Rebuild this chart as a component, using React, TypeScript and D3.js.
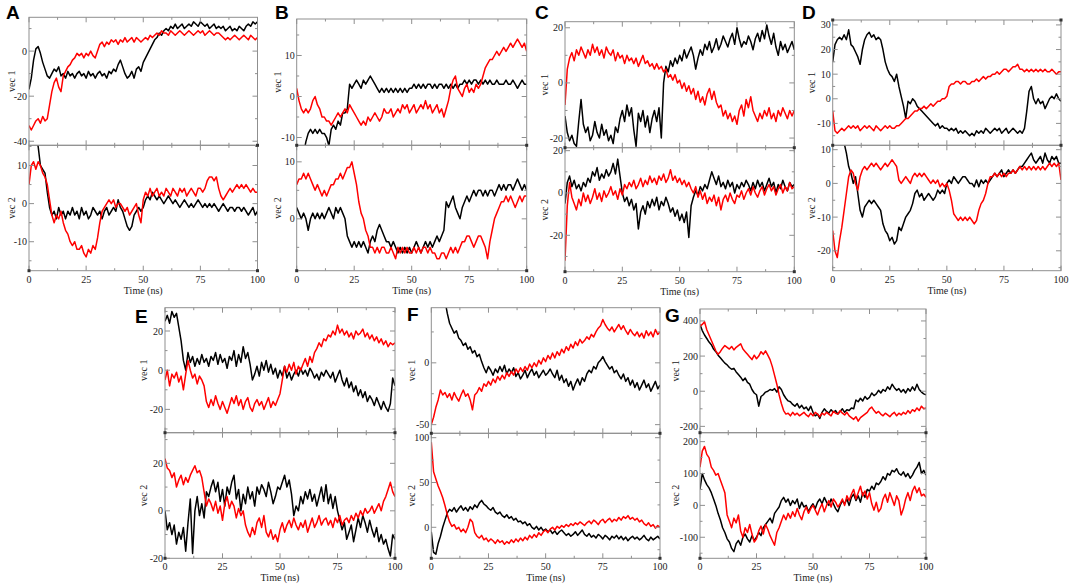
import React from "react";
import * as d3 from "d3";

// time axis (ns), one sample per ns
const timeNs = d3.range(0, 101);
const timeTicks = [0, 25, 50, 75, 100];

// ---- panel A ----
const aVec1Black = [
  -17, -12, -4, 1, 2, -1, -5, -8, -11, -12,
  -10, -8, -9, -7, -11, -10, -12, -9, -11, -10,
  -12, -10, -9, -11, -10, -12, -9, -11, -10, -12,
  -10, -9, -11, -10, -12, -9, -10, -8, -9, -6,
  -4, -7, -10, -12, -11, -9, -12, -8, -7, -9,
  -5, -3, -1, 1, 3, 5, 6, 8, 7, 9,
  10, 9, 11, 10, 12, 10, 11, 12, 10, 11,
  12, 11, 13, 12, 11, 13, 12, 11, 12, 10,
  11, 12, 10, 11, 10, 11, 9, 10, 11, 9,
  10, 9, 11, 10, 9, 11, 12, 11, 13, 12,
  13,
];
const aVec1Red = [
  -33, -35, -33, -31, -30, -32, -29, -31, -30, -24,
  -18, -14, -12, -16, -18, -11, -9, -7, -6, -4,
  -3, -1, -2, -1, -3, -1, -2, 0, -2, -3,
  0, 3, 4, 2, 4, 3, 5, 4, 5, 3,
  5, 4, 6, 4, 5, 6, 4, 6, 5, 4,
  5, 6, 5, 7, 6, 7, 8, 7, 9, 8,
  8, 7, 9, 8, 7, 8, 9, 8, 7, 8,
  9, 8, 7, 8, 9, 8, 9, 7, 8, 9,
  8, 7, 8, 8, 7, 6, 5, 6, 5, 6,
  7, 6, 5, 6, 7, 6, 5, 7, 6, 5,
  6,
];
const aVec2Black = [
  16, 17, 16, 17, 15, 10, 9, 8, 3, -1,
  -3, -2, -4, -1, -3, -2, -4, -2, -3, -1,
  -3, -2, -4, -1, -3, -2, -4, -3, -1, -2,
  -3, -2, -4, -2, -1, -3, -2, -1, -2, 1,
  -1, -2, -4, -6, -7, -6, -3, -2, -1, -2,
  -1, 1, 2, 1, 3, 2, 1, 2, 1, 0,
  1, 2, 1, 0, 1, 0, -1, 0, 1, 0,
  -1, 0, -1, 0, 1, 0, -1, 0, -1, 0,
  -1, 0, -1, -2, -1, 0, -1, -2, -1, -1,
  -2, -1, -1, -2, -1, -2, -3, -2, -1, -3,
  -2,
];
const aVec2Red = [
  5, 10, 11, 9, 11, 10, 8, 7, 5, 1,
  -3, -5, -3, -4, -2, -5, -7, -8, -10, -11,
  -10, -12, -12, -11, -13, -14, -12, -13, -11, -12,
  -9, -5, -2, -1, 0, 1, 0, 1, -1, 0,
  0, -1, -2, -1, -3, -2, -1, 0, -3, -5,
  1, 3, 2, 4, 2, 3, 4, 2, 3, 2,
  4, 3, 2, 4, 3, 2, 4, 3, 4, 2,
  3, 4, 3, 2, 4, 4, 3, 4, 6, 7,
  7, 6, 7, 4, 2, 1, 2, 3, 4, 3,
  4, 5, 4, 5, 4, 5, 4, 3, 4, 3,
  3,
];

// ---- panel B ----
const bVec1Black = [
  -13, -14, -13, -14, -11, -9, -8, -9, -8, -9,
  -8, -9, -9, -10, -12, -8, -7, -8, -6, -7,
  -4, -4, -3, 3, 2, 3, 4, 3, 2, 4,
  3, 4, 5, 4, 3, 2, 1, 2, 1, 2,
  1, 2, 1, 2, 1, 2, 1, 2, 1, 2,
  2, 3, 2, 3, 2, 3, 2, 3, 3, 2,
  3, 2, 3, 3, 2, 3, 2, 3, 2, 3,
  2, 3, 3, 4, 3, 4, 3, 4, 4, 3,
  4, 3, 4, 3, 4, 3, 3, 4, 3, 3,
  3, 4, 3, 3, 4, 3, 2, 3, 4, 3,
  3,
];
const bVec1Red = [
  2, -1, -3, -4, -3, -4, -3, -1, 0, -2,
  -3, -5, -5, -6, -6, -7, -6, -5, -4, -5,
  -4, -3, -4, -2, -3, -4, -5, -6, -7, -6,
  -7, -5, -6, -5, -4, -5, -6, -5, -3, -4,
  -4, -3, -5, -4, -3, -4, -2, -3, -2, -4,
  -3, -2, -4, -3, -2, -3, -1, -3, -2, -4,
  -3, -2, -4, -3, -5, -3, -1, 2, 4, 5,
  2, 1, 0, 2, 3, 1, 2, 1, 3, 2,
  3, 5, 7, 8, 9, 9, 10, 11, 10, 11,
  12, 11, 12, 13, 12, 13, 14, 13, 12, 13,
  11,
];
const bVec2Black = [
  2, 1, 0, 1, 0, -2, 0, 1, 0, 1,
  0, 1, 0, 1, 2, 1, 0, 2, 1, 2,
  1, 0, -3, -4, -5, -4, -5, -4, -5, -4,
  -5, -6, -4, -3, -4, -2, -1, -2, -3, -4,
  -4, -5, -4, -5, -6, -5, -6, -5, -6, -5,
  -6, -5, -4, -5, -6, -5, -4, -5, -4, -5,
  -4, -3, -4, -3, -2, 3, 2, 3, 4, 2,
  1, 0, 2, 3, 4, 3, 4, 5, 4, 5,
  5, 4, 5, 4, 5, 5, 4, 5, 6, 5,
  6, 5, 6, 6, 5, 6, 7, 6, 5, 6,
  5,
];
const bVec2Red = [
  6, 7, 7, 8, 7, 8, 7, 6, 5, 6,
  5, 4, 5, 4, 5, 6, 6, 7, 7, 8,
  7, 8, 9, 9, 10, 8, 6, 3, 1, 0,
  -2, -3, -5, -5, -6, -5, -6, -5, -5, -6,
  -6, -5, -6, -7, -5, -6, -5, -6, -5, -6,
  -6, -5, -6, -5, -6, -5, -5, -6, -5, -6,
  -6, -7, -7, -6, -6, -7, -6, -5, -6, -5,
  -6, -5, -4, -4, -3, -3, -4, -5, -4, -3,
  -3, -4, -5, -7, -4, -2, 0, 1, 2, 3,
  3, 4, 3, 4, 3, 2, 3, 4, 3, 4,
  4,
];

// ---- panel C ----
const cVec1Black = [
  -12, -18, -21, -19, -22, -23, -14, -6, -15, -18,
  -16, -21, -19, -14, -18, -20, -15, -19, -17, -21,
  -19, -22, -16, -18, -13, -10, -14, -8, -12, -9,
  -17, -23, -11, -14, -10, -16, -12, -18, -13, -10,
  -14, -9, -20, 0, 6, 4, 8, 6, 9, 7,
  10, 8, 12, 9, 11, 13, 10, 5, 9, 12,
  10, 14, 12, 15, 11, 13, 16, 12, 14, 17,
  15, 13, 16, 18, 14, 20, 16, 13, 15, 14,
  17, 15, 12, 16, 18, 15, 19, 16, 21, 17,
  14, 18, 13, 10, 15, 12, 14, 11, 13, 15,
  12,
];
const cVec1Red = [
  -8, 5, 9, 11, 8, 12, 10, 13, 11, 9,
  12, 10, 14, 11, 13, 10, 12, 9, 13, 11,
  10, 12, 8, 11, 9, 10, 7, 10, 8, 9,
  7, 9, 6, 8, 10, 7, 8, 6, 7, 5,
  7, 5, 6, 4, 5, 2, 3, 1, 3, 0,
  1, -2, 0, -3, -1, -4, -2, -6, -3, -7,
  -5, -8, -4, -2, -6, -3, -7, -9, -8, -12,
  -10, -13, -11, -14, -12, -15, -10, -8, -12, -6,
  -9, -5, -10, -12, -14, -11, -13, -10, -12, -9,
  -13, -11, -14, -10, -12, -9, -11, -13, -10, -12,
  -10,
];
const cVec2Black = [
  -5, 5, 8, 3, 6, 2, 4, 1, 5, 3,
  7, 5, 10, 8, 12, 6, 9, 7, 11, 8,
  10, 14, 9, 16, 8, 0, -4, -2, -6, -3,
  -8, -5, -17, -9, -6, -10, -4, -7, -3, -6,
  -2, -8, -4, -6, -2, -5, -9, -7, -11, -8,
  -13, -10, -14, -9, -21, -6, -2, 1, -1, 3,
  1, 4, 2, 6, 10, 7, 4, 8, 3, 5,
  2, 6, 3, 5, 0, 4, 2, 5, 3, 6,
  4, 1, 5, 2, 6, 3, 5, 1, 4, 7,
  3, 5, 0, 4, 2, 6, 3, 1, 5, 3,
  4,
];
const cVec2Red = [
  -32, -6, 5, -2, -5, -8, -3, -6, 0, -4,
  -1, -5, -2, 2, -3, 0, -4, 1, -2, 0,
  3, -1, 1, -3, 2, -1, 4, 2, 5, 3,
  6, 2, 4, 7, 3, 6, 4, 8, 5, 7,
  4, 8, 6, 9, 5, 7, 11, 6, 8, 5,
  7, 4, 6, 3, 5, 2, 0, 3, -2, 1,
  -3, 0, -5, -2, -4, -1, -6, -2, -8, -3,
  -1, -4, 0, -3, -5, -1, -2, 1, -3, 0,
  2, -1, 3, 0, -2, 1, 3, -1, 2, 4,
  1, 3, -1, 2, 4, 0, 3, 1, 5, 2,
  3,
];

// ---- panel D ----
const dVec1Black = [
  15, 22, 24, 25, 24, 26, 24, 28, 22, 21,
  19, 17, 14, 20, 24, 26, 27, 25, 26, 24,
  25, 24, 20, 15, 12, 10, 9, 7, 10, 5,
  1, -3, -8, -1, -2, 0, -1, -3, -4, -5,
  -6, -7, -8, -9, -10, -11, -10, -12, -11, -12,
  -12, -13, -12, -13, -12, -14, -13, -14, -13, -14,
  -15, -14, -15, -13, -14, -13, -14, -12, -13, -14,
  -13, -12, -13, -12, -14, -13, -12, -14, -13, -12,
  -13, -14, -13, -14, -12, -5, 3, 5, 0, -2,
  0, -2, -1, -4, -2, 0, 1, 0, 2, 0,
  -1,
];
const dVec1Red = [
  -5, -13, -14, -13, -12, -13, -12, -11, -12, -11,
  -12, -11, -13, -12, -11, -12, -11, -12, -13, -11,
  -12, -13, -12, -11, -12, -11, -12, -12, -11, -11,
  -10, -9, -8, -8, -7, -6, -5, -5, -4, -4,
  -3, -4, -3, -2, -3, -2, -1, -1, 0, 0,
  1, 5, 6, 6, 7, 7, 6, 7, 7, 6,
  6, 7, 7, 8, 7, 8, 9, 8, 9, 9,
  10, 10, 11, 10, 11, 12, 12, 11, 12, 13,
  13, 14, 12, 12, 11, 12, 11, 12, 11, 12,
  11, 12, 11, 12, 11, 11, 12, 11, 10, 11,
  11,
];
const dVec2Black = [
  13, 14, 15, 16, 14, 12, 9, 5, 3, 0,
  2, -3, -8, -10, -7, -6, -5, -6, -5, -6,
  -7, -8, -12, -14, -15, -17, -16, -18, -17, -13,
  -14, -12, -10, -9, -8, -6, -3, -2, -4, -3,
  -5, -4, -3, -4, -5, -4, -2, -3, -2, -3,
  0, 1, 0, 2, 1, 0, 1, 2, 2, 1,
  0, 0, -1, 1, -1, 1, 0, 1, 0, 1,
  2, 3, 2, 3, 4, 2, 3, 4, 3, 4,
  3, 4, 5, 5, 6, 7, 8, 9, 7, 6,
  7, 8, 6, 9, 7, 6, 8, 7, 8, 6,
  6,
];
const dVec2Red = [
  -14, -20, -22, -17, -13, -8, -3, 2, 4, 3,
  0, -2, 2, 4, 5, 4, 5, 6, 5, 6,
  5, 4, 5, 6, 5, 6, 7, 6, 5, 1,
  0, 1, 2, 1, 0, 2, 3, 2, 3, 2,
  3, 2, 1, 0, 1, 0, 1, -1, 0, -1,
  0, -2, -5, -9, -10, -11, -10, -11, -10, -11,
  -10, -11, -12, -11, -8, -6, -5, -3, 0, 2,
  2, 3, 2, 3, 2, 3, 2, 3, 3, 4,
  3, 4, 5, 4, 5, 4, 5, 4, 5, 4,
  5, 4, 5, 4, 5, 6, 5, 6, 5, 6,
  1,
];

// ---- panel E ----
const eVec1Black = [
  25, 28, 24, 30, 27, 29, 22, 15, 5, 0,
  9, 4, 7, 2, 6, 3, 8, 4, 6, 2,
  7, 5, 9, 3, 8, 4, 6, 1, 7, 5,
  10, 2, 8, 4, 12, 6, 9, 3, -5, -2,
  2, -3, 4, 0, 5, -1, 3, -2, 1, -4,
  0, -3, 2, -4, -1, -5, -2, 0, -3, 1,
  -2, 0, -3, 1, -1, -4, -2, -5, -1, -3,
  0, -2, -4, -1, -6, -3, 0, -5, -8, -4,
  -9, -6, -11, -8, -13, -10, -14, -11, -16, -13,
  -15, -18, -14, -17, -20, -16, -19, -21, -17, -4,
  -8,
];
const eVec1Red = [
  -5, 0, -8, -2, -4, -1, -6, -3, -10, -2,
  5, 0, -4, -2, -7, -3, -5, -8, -16, -19,
  -15, -18, -13, -17, -20, -16, -19, -22, -18, -14,
  -17, -13, -18, -15, -20, -16, -14, -19, -21, -17,
  -15, -18, -16, -20, -17, -14, -19, -16, -18, -15,
  -12, -5, 2, -1, 3, 0, 4, -2, 2, 0,
  3, 6, 2, 7, 4, 9, 11, 14, 12, 16,
  15, 18, 17, 20, 18, 23, 19, 21, 18, 20,
  17, 19, 16, 20, 18, 19, 21, 17, 19, 16,
  18, 15, 17, 14, 16, 13, 15, 12, 14, 13,
  14,
];
const eVec2Black = [
  0, -8, -5, -10, -6, -14, -9, -12, -7, -17,
  -5, 5, -18, 0, 6, -2, 3, -3, 8, 6,
  10, 13, 8, 12, 4, 9, 2, 10, 7, 12,
  15, 5, 9, 0, 7, 3, 10, 5, 8, 2,
  10, 7, 11, 9, 6, 12, 8, 3, 6, 10,
  9, 12, 15, 10, 13, 7, -2, 2, 0, 6,
  3, 8, 5, 9, 4, 7, 2, 6, 10, 4,
  11, 3, 7, 1, 6, 0, -4, -8, -5, -12,
  -9, -6, -13, -8, -3, -7, -2, -5, -9, -4,
  -8, -11, -7, -13, -10, -14, -12, -16, -19, -10,
  -12,
];
const eVec2Red = [
  22, 18, 17, 14, 16, 10, 13, 15, 11, 14,
  12, 15, 17, 19, 16, 17, 14, 8, 2, 5,
  3, 0, 4, -1, 2, -4, 3, 6, 1, 4,
  2, -3, 1, -2, 0, -6, -9, -11, -7, -10,
  -5, -3, -7, -2, -9, -11, -8, -12, -10, -13,
  -8, -5, -9, -6, -4, -7, -3, -6, -8, -5,
  -7, -4, -9, -6, -3, -7, -5, -2, -6, -4,
  -3, -6, -4, -7, -3, -5, -2, -6, -4, -3,
  -5, -2, -4, -1, -3, 0, -2, 1, -1, 0,
  2, -1, 1, 3, 0, 4, 6, 9, 12, 8,
  6,
];

// ---- panel F ----
const fVec1Black = [
  100, 90, 80, 72, 65, 58, 50, 40, 32, 28,
  24, 26, 20, 18, 14, 16, 11, 13, 8, 10,
  5, 7, 1, -4, -8, -3, -6, -10, -5, -8,
  -3, -7, -2, -9, -5, -8, -4, -11, -8, -13,
  -10, -6, -12, -8, -5, -10, -7, -12, -9, -6,
  -10, -8, -5, -9, -12, -6, -14, -10, -16, -13,
  -19, -15, -22, -17, -13, -18, -12, -15, -9, -6,
  -8, -3, -5, 0, 2, 5, 1, -2, -5, -3,
  -8, -6, -10, -13, -9, -15, -12, -18, -14, -20,
  -16, -22, -18, -14, -20, -17, -23, -19, -15, -21,
  -18,
];
const fVec1Red = [
  -50, -44, -36, -30, -22, -26, -24, -28, -25, -30,
  -24, -28, -31, -26, -22, -27, -25, -30, -38, -26,
  -24, -20, -23, -17, -19, -15, -18, -13, -16, -11,
  -14, -10, -13, -8, -11, -7, -10, -5, -8, -4,
  -7, -3, -6, -1, -4, 0, -3, 2, -1, 4,
  1, 6, 3, 8, 4, 9, 6, 11, 8, 13,
  10, 15, 12, 17, 14, 19, 16, 18, 21, 19,
  23, 21, 25, 28, 30, 35, 31, 28, 26, 29,
  25, 28, 31, 27, 30, 26, 23, 27, 24, 22,
  25, 21, 24, 20, 26, 22, 25, 21, 27, 23,
  25,
];
const fVec2Black = [
  -5, -28, -30, -18, -10, 0, 8, 16, 20, 18,
  22, 17, 21, 24, 19, 22, 18, 23, 20, 25,
  22, 27, 30, 26, 24, 21, 19, 22, 17, 15,
  17, 13, 11, 14, 10, 12, 8, 10, 6, 7,
  4, 6, 2, 4, 0, -2, 1, -3, 0, -4,
  -2, -5, -3, -7, -4, -8, -5, -3, -6, -9,
  -7, -10, -8, -5, -9, -6, -3, -8, -10, -7,
  -11, -9, -12, -8, -10, -13, -9, -11, -14, -10,
  -12, -9, -13, -10, -14, -11, -15, -12, -10, -13,
  -11, -14, -12, -9, -13, -15, -11, -14, -12, -10,
  -13,
];
const fVec2Red = [
  95, 62, 54, 46, 40, 33, 24, 14, 6, 1,
  3, -2, 0, -5, -2, -6, 0, 9, 6, -6,
  -10, -12, -9, -14, -12, -16, -13, -15, -18, -14,
  -17, -15, -19, -16, -18, -14, -17, -13, -16, -12,
  -15, -11, -14, -9, -12, -8, -11, -6, -9, -5,
  -3, -6, -2, 0, -3, 1, -1, 2, 0, 3,
  1, 4, 2, 5, 3, 6, 4, 2, 5, 7,
  4, 8, 6, 3, 7, 9, 5, 8, 10, 6,
  9, 7, 11, 8, 12, 10, 13, 9, 11, 8,
  10, 6, 8, 4, 2, 5, 1, 3, -1, 2,
  0,
];

// ---- panel G ----
const gVec1Black = [
  380, 345, 320, 300, 280, 265, 240, 225, 205, 190,
  175, 160, 150, 135, 125, 130, 110, 95, 80, 60,
  75, 50, 40, 10, -10, -20, -85, -30, -20, -5,
  0, 10, 5, 15, -5, 25, 10, -20, -40, -55,
  -60, -75, -85, -70, -95, -80, -100, -90, -110, -85,
  -120, -140, -130, -155, -120, -100, -115, -125, -105, -120,
  -110, -130, -115, -100, -120, -105, -110, -95, -100, -50,
  -60, -40, -55, -30, -45, -35, -10, -25, -15, 5,
  -10, 10, 0, 25, 10, 40, 20, 5, 15, -5,
  10, -10, 15, 0, 25, 5, 40, 10, -5, -15,
  -20,
];
const gVec1Red = [
  370, 380, 395, 350, 320, 290, 260, 230, 210, 225,
  245, 260, 250, 240, 255, 235, 250, 260, 270, 240,
  225, 210, 195, 180, 205, 185, 200, 225, 210, 230,
  205, 180, 140, 90, 40, -20, -70, -110, -130, -125,
  -140, -120, -135, -125, -140, -130, -120, -135, -145, -125,
  -140, -120, -130, -145, -125, -135, -120, -130, -140, -115,
  -125, -130, -110, -125, -135, -120, -140, -150, -160, -145,
  -170, -150, -140, -130, -120, -100, -90, -110, -125, -115,
  -130, -140, -125, -135, -145, -130, -120, -140, -125, -135,
  -120, -130, -110, -125, -105, -115, -95, -110, -85, -100,
  -95,
];
const gVec2Black = [
  50, 100, 80, 65, 55, 40, 20, 0, -25, -45,
  -70, -85, -105, -115, -135, -145, -120, -110, -125, -100,
  -90, -105, -115, -95, -110, -100, -85, -95, -70, -60,
  -50, -40, -55, -25, -15, -5, 15, 25, 10, 20,
  0, 15, 5, 20, -10, 10, -5, 0, -20, -5,
  5, -10, 10, 20, 5, 25, 10, 0, 20, 5,
  -10, -20, 0, 15, 5, 20, 0, 25, 35, 15,
  30, 10, 40, 25, 50, 45, 60, 50, 70, 65,
  75, 90, 80, 100, 95, 110, 105, 115, 100, 95,
  105, 90, 100, 85, 95, 110, 120, 135, 100, 110,
  95,
];
const gVec2Red = [
  120, 170, 185, 160, 150, 120, 110, 95, 100, 80,
  60, 40, -30, -50, -70, -40, -55, -30, -80, -100,
  -70, -85, -60, -90, -115, -105, -80, -65, -90, -60,
  -75, -95, -110, -125, -85, -70, -50, -30, -45, -25,
  -40, -20, -35, -10, -30, -45, -20, -5, -25, -10,
  0, -15, -30, -10, 5, -20, 0, 15, -5, 20,
  10, -5, 5, 20, 0, 30, 15, 35, 50, 20,
  40, 60, 30, 45, 20, 40, 5, -15, 10, -20,
  -10, 20, 35, 10, 40, 20, 0, 30, 15, -30,
  -10, 20, 40, 15, 45, 60, 40, 55, 30, 35,
  25,
];

type Sub = {
  label: string;
  domain: [number, number];
  major: number[];
  minor: number;
  black: number[];
  red: number[];
};

type Panel = {
  letter: string;
  lx: number;
  ly: number;
  x0: number;
  x1: number;
  top: number;
  mid: number;
  bot: number;
  vx: number;
  marks: string[];
  subs: [Sub, Sub];
};

const panels: Panel[] = [
  {
    letter: "A", lx: 6, ly: 19, x0: 29, x1: 257.5, top: 17.3, mid: 145.3, bot: 270.7, vx: 15,
    marks: ["rm", "lb", "rb"],
    subs: [
      { label: "vec 1", domain: [-41.8, 15], major: [-40, -20, 0], minor: 10, black: aVec1Black, red: aVec1Red },
      { label: "vec 2", domain: [-17.6, 15.3], major: [-10, 0, 10], minor: 5, black: aVec2Black, red: aVec2Red },
    ],
  },
  {
    letter: "B", lx: 275, ly: 19, x0: 296.7, x1: 526.7, top: 19, mid: 145.3, bot: 270.7, vx: 281,
    marks: ["lm", "rm", "lb", "rb"],
    subs: [
      { label: "vec 1", domain: [-11.9, 18.9], major: [-10, 0, 10], minor: 5, black: bVec1Black, red: bVec1Red },
      { label: "vec 2", domain: [-9.1, 12.9], major: [0, 10], minor: 5, black: bVec2Black, red: bVec2Red },
    ],
  },
  {
    letter: "C", lx: 535, ly: 19, x0: 565, x1: 794.3, top: 21.7, mid: 147.7, bot: 271.7, vx: 548,
    marks: ["lm", "rm", "lb", "rb"],
    subs: [
      { label: "vec 1", domain: [-23.5, 22.2], major: [-20, 0, 20], minor: 10, black: cVec1Black, red: cVec1Red },
      { label: "vec 2", domain: [-37.2, 21.4], major: [-20, 0, 20], minor: 10, black: cVec2Black, red: cVec2Red },
    ],
  },
  {
    letter: "D", lx: 802, ly: 19, x0: 832.7, x1: 1061, top: 20, mid: 145.3, bot: 270.7, vx: 815,
    marks: ["lt", "rt", "lm", "rm"],
    subs: [
      { label: "vec 1", domain: [-18.9, 32], major: [-10, 0, 10, 20, 30], minor: 5, black: dVec1Black, red: dVec1Red },
      { label: "vec 2", domain: [-25.9, 11.3], major: [-20, -10, 0, 10], minor: 5, black: dVec2Black, red: dVec2Red },
    ],
  },
  {
    letter: "E", lx: 135, ly: 323, x0: 165, x1: 395, top: 307.7, mid: 432.7, bot: 558.3, vx: 147,
    marks: ["lm", "rm", "lb", "rb"],
    subs: [
      { label: "vec 1", domain: [-31.9, 31.9], major: [-20, 0, 20], minor: 10, black: eVec1Black, red: eVec1Red },
      { label: "vec 2", domain: [-20, 32.9], major: [-20, 0, 20], minor: 10, black: eVec2Black, red: eVec2Red },
    ],
  },
  {
    letter: "F", lx: 407, ly: 321, x0: 431.3, x1: 660, top: 307.7, mid: 433.3, bot: 558.3, vx: 415,
    marks: ["lm", "lb", "rm", "rb"],
    subs: [
      { label: "vec 1", domain: [-57, 44.6], major: [-50, 0], minor: 25, black: fVec1Black, red: fVec1Red },
      { label: "vec 2", domain: [-34.6, 104.9], major: [0, 50, 100], minor: 25, black: fVec2Black, red: fVec2Red },
    ],
  },
  {
    letter: "G", lx: 665, ly: 322, x0: 700, x1: 926, top: 309, mid: 432.7, bot: 558.3, vx: 679,
    marks: ["lm", "rm", "lb", "rb"],
    subs: [
      { label: "vec 1", domain: [-236, 468], major: [-200, 0, 200, 400], minor: 100, black: gVec1Black, red: gVec1Red },
      { label: "vec 2", domain: [-166, 228], major: [-100, 0, 100, 200], minor: 50, black: gVec2Black, red: gVec2Red },
    ],
  },
];

const FRAME = "#8f8f8f";
const SERIF = "'Liberation Serif', 'DejaVu Serif', serif";

function SubPlot({ p, s, idx }: { p: Panel; s: Sub; idx: number }) {
  const y0 = idx === 0 ? p.top : p.mid;
  const y1 = idx === 0 ? p.mid : p.bot;
  const x = d3.scaleLinear().domain([0, 100]).range([p.x0, p.x1]);
  const y = d3.scaleLinear().domain(s.domain).range([y1, y0]);
  const line = d3
    .line<number>()
    .x((_, i) => x(timeNs[i]))
    .y((d) => y(d));
  const clipId = `clip-${p.letter}-${idx}`;
  const lo = Math.ceil(s.domain[0] / s.minor) * s.minor;
  const minors = d3
    .range(lo, s.domain[1] + 1e-9, s.minor)
    .filter((v) => !s.major.includes(v));
  const xMinor = [12.5, 37.5, 62.5, 87.5];
  const M = 5;
  const m = 2.5;
  return (
    <g>
      <clipPath id={clipId}>
        <rect x={p.x0} y={y0} width={p.x1 - p.x0} height={y1 - y0} />
      </clipPath>
      <g clipPath={`url(#${clipId})`} fill="none" strokeWidth={1.5} strokeLinejoin="round">
        <path d={line(s.black) ?? ""} stroke="#000" />
        <path d={line(s.red) ?? ""} stroke="#ff0000" />
      </g>
      <rect x={p.x0} y={y0} width={p.x1 - p.x0} height={y1 - y0} fill="none" stroke={FRAME} strokeWidth={1} />
      <g stroke={FRAME} strokeWidth={1}>
        {timeTicks.map((t) => (
          <g key={`xt${t}`}>
            <line x1={x(t)} x2={x(t)} y1={y0} y2={y0 + M} />
            <line x1={x(t)} x2={x(t)} y1={y1} y2={y1 - M} />
          </g>
        ))}
        {xMinor.map((t) => (
          <g key={`xm${t}`}>
            <line x1={x(t)} x2={x(t)} y1={y0} y2={y0 + m} />
            <line x1={x(t)} x2={x(t)} y1={y1} y2={y1 - m} />
          </g>
        ))}
        {s.major.map((v) => (
          <g key={`yt${v}`}>
            <line x1={p.x0} x2={p.x0 + M} y1={y(v)} y2={y(v)} />
            <line x1={p.x1} x2={p.x1 - M} y1={y(v)} y2={y(v)} />
          </g>
        ))}
        {minors.map((v) => (
          <g key={`ym${v}`}>
            <line x1={p.x0} x2={p.x0 + m} y1={y(v)} y2={y(v)} />
            <line x1={p.x1} x2={p.x1 - m} y1={y(v)} y2={y(v)} />
          </g>
        ))}
      </g>
      <g fontFamily={SERIF} fontSize={10} fill="#222" textAnchor="end">
        {s.major.map((v) => (
          <text key={`yl${v}`} x={p.x0 - 2} y={y(v) + 3.5}>
            {v}
          </text>
        ))}
      </g>
      <text
        transform={`translate(${p.vx},${(y0 + y1) / 2}) rotate(-90)`}
        textAnchor="middle"
        fontFamily={SERIF}
        fontSize={10}
        fill="#222"
      >
        {s.label}
      </text>
      {idx === 1 && (
        <g fontFamily={SERIF} fontSize={10} fill="#222" textAnchor="middle">
          {timeTicks.map((t) => (
            <text key={`xl${t}`} x={x(t)} y={p.bot + 12}>
              {t}
            </text>
          ))}
          <text x={(p.x0 + p.x1) / 2} y={p.bot + 23}>
            Time (ns)
          </text>
        </g>
      )}
    </g>
  );
}

function PanelView({ p }: { p: Panel }) {
  const corner: Record<string, [number, number]> = {
    lt: [p.x0, p.top],
    rt: [p.x1, p.top],
    lm: [p.x0, p.mid],
    rm: [p.x1, p.mid],
    lb: [p.x0, p.bot],
    rb: [p.x1, p.bot],
  };
  return (
    <g>
      <SubPlot p={p} s={p.subs[0]} idx={0} />
      <SubPlot p={p} s={p.subs[1]} idx={1} />
      {p.marks.map((k) => (
        <rect key={k} x={corner[k][0] - 1.5} y={corner[k][1] - 1.5} width={3} height={3} fill="#333" />
      ))}
      <text
        x={p.lx}
        y={p.ly}
        fontFamily="'Liberation Sans', Arial, sans-serif"
        fontWeight="bold"
        fontSize={19}
        fill="#000"
      >
        {p.letter}
      </text>
    </g>
  );
}

export default function App() {
  return (
    <svg
      width={1072}
      height={586}
      style={{ position: "absolute", left: 0, top: 0, display: "block", background: "#fff" }}
    >
      {panels.map((p) => (
        <PanelView key={p.letter} p={p} />
      ))}
    </svg>
  );
}
